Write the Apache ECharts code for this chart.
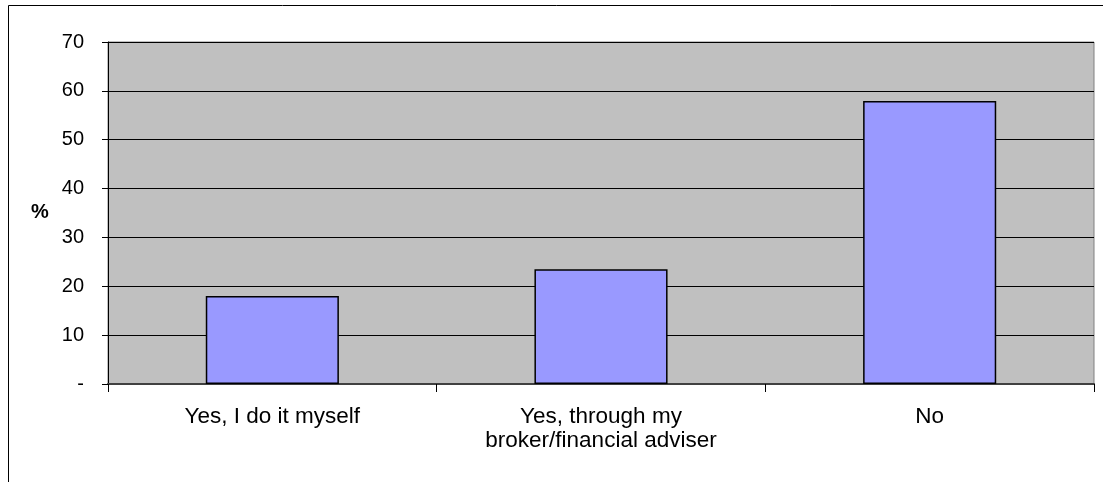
<!DOCTYPE html>
<html>
<head>
<meta charset="utf-8">
<script src="https://cdn.jsdelivr.net/npm/echarts@6/dist/echarts.min.js"></script>
<style>
html,body{margin:0;padding:0;background:#fff;}
#c{width:1103px;height:482px;}
</style>
</head>
<body>
<div id="c"></div>
<script>
const categories = ['Yes, I do it myself', 'Yes, through my\nbroker/financial adviser', 'No'];
const values = [18.0, 23.5, 57.9];
const yTicks = ['-', '10', '20', '30', '40', '50', '60', '70'];

const chart = echarts.init(document.getElementById('c'), null, {renderer: 'canvas'});
chart.setOption({
  animation: false,
  backgroundColor: '#ffffff',
  graphic: [
    {type: 'rect', shape: {x: 8.5, y: 5.5, width: 1200, height: 600},
     style: {fill: 'none', stroke: '#000', lineWidth: 1}, z: -1},
    {type: 'text', left: 31, top: 202,
     style: {text: '%', font: 'bold 20px "Liberation Sans", Arial, sans-serif', fill: '#000'}}
  ],
  grid: {left: 108, right: 9, top: 42, bottom: 98, show: true,
         backgroundColor: '#C0C0C0', borderColor: '#808080', borderWidth: 1},
  xAxis: {
    type: 'category', data: categories,
    axisLine: {lineStyle: {color: '#404040', width: 2}},
    axisTick: {show: true, length: 8, lineStyle: {color: '#000'}},
    axisLabel: {color: '#000', fontFamily: '"Liberation Sans", Arial, sans-serif',
                fontSize: 22.5, lineHeight: 24, margin: 21, interval: 0}
  },
  yAxis: {
    type: 'value', min: 0, max: 70, interval: 10,
    axisLine: {show: true, lineStyle: {color: '#000'}},
    axisTick: {show: true, length: 6, lineStyle: {color: '#000'}},
    splitLine: {lineStyle: {color: '#000', width: 1}},
    axisLabel: {color: '#000', fontFamily: '"Liberation Sans", Arial, sans-serif',
                fontSize: 20, margin: 24,
                formatter: function (v) { return yTicks[Math.round(v / 10)]; }}
  },
  series: [{
    type: 'bar', data: values, barWidth: '40.5%',
    itemStyle: {color: '#9999FF', borderColor: '#000', borderWidth: 1.5}
  }]
});
</script>
</body>
</html>
